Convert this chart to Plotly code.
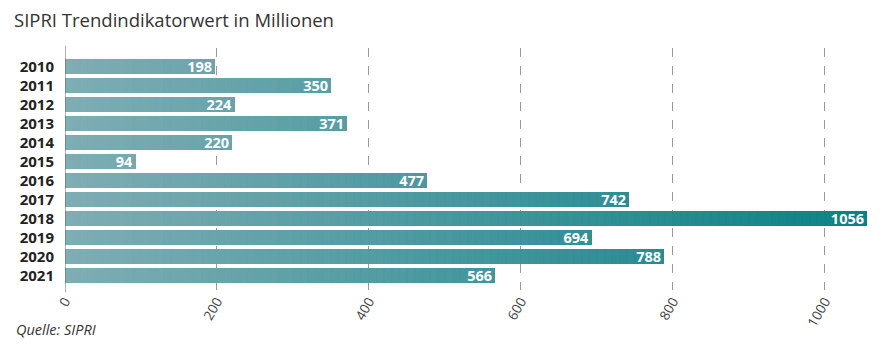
import plotly.graph_objects as go

years = ["2010", "2011", "2012", "2013", "2014", "2015", "2016", "2017", "2018", "2019", "2020", "2021"]
values = [198, 350, 224, 371, 220, 94, 477, 742, 1056, 694, 788, 566]
x_ticks = [0, 200, 400, 600, 800, 1000]
title_text = "SIPRI Trendindikatorwert in Millionen"
source_text = "Quelle: SIPRI"

X_MAX = 1083
C0 = (128, 173, 180)
C1 = (8, 128, 134)
STEP = 10


def lerp(t):
    t = max(0.0, min(1.0, t))
    return "rgb(%d,%d,%d)" % tuple(round(a + (b - a) * t) for a, b in zip(C0, C1))


fig = go.Figure()
k = 0
vmax = max(values)
while k * STEP < vmax:
    b = k * STEP
    xs, ys, bases = [], [], []
    for y, v in zip(years, values):
        if v > b:
            xs.append(min(STEP, v - b))
            ys.append(y)
            bases.append(b)
    col = lerp((b + STEP / 2) / X_MAX)
    fig.add_trace(go.Bar(
        x=xs, y=ys, base=bases, orientation="h",
        marker=dict(color=col, line=dict(width=0.02, color=col)),
        width=15 / 19, hoverinfo="skip", showlegend=False,
    ))
    k += 1

fig.add_trace(go.Bar(
    x=values, y=years, orientation="h",
    marker=dict(color="rgba(0,0,0,0)", line=dict(width=0)),
    width=15 / 19,
    text=[str(v) for v in values],
    textposition="inside", insidetextanchor="end", textangle=0,
    constraintext="none",
    textfont=dict(family="Open Sans", size=14.5, color="white", weight="bold"),
    showlegend=False,
))

fig.update_layout(
    width=882, height=339,
    margin=dict(l=57, r=2, t=40, b=57, autoexpand=False),
    paper_bgcolor="white", plot_bgcolor="white",
    barmode="overlay", bargap=0, bargroupgap=0,
    xaxis=dict(
        range=[0, X_MAX], tickvals=x_ticks, ticktext=[str(t) for t in x_ticks],
        tickangle=-60, showgrid=True, gridcolor="#9a9a9a", griddash="dash", gridwidth=1,
        zeroline=False, showline=False, ticks="", automargin=False,
        tickfont=dict(family="Open Sans", size=13.5, color="#444"),
    ),
    yaxis=dict(
        categoryorder="array", categoryarray=years, automargin=False,
        range=[242 / 19 - 18.5 / 19, -18.5 / 19], showgrid=False, zeroline=False, ticks="",
        tickfont=dict(family="Open Sans", size=15, color="#222", weight="bold"),
        ticklabelstandoff=10,
    ),
    title=dict(text=title_text, x=6 / 882, xanchor="left", y=1 - 13 / 339, yref="container",
               yanchor="middle", pad=dict(l=0, r=0, t=0, b=0),
               font=dict(family="Open Sans", size=18.5, color="#333")),
    shapes=[
        dict(type="line", xref="x", yref="paper", x0=0, x1=0, y0=-0.01, y1=1.01,
             line=dict(color="#666", width=1)),
        dict(type="line", xref="paper", yref="paper", x0=1.0, x1=1.0, y0=-0.25, y1=1.25,
             line=dict(color="#c8c8cc", width=2)),
    ],
    annotations=[
        dict(text=source_text, xref="paper", yref="paper", x=-51 / 823, y=-0.165,
             xanchor="left", yanchor="middle", showarrow=False,
             font=dict(family="Open Sans", size=14.5, color="#333", style="italic")),
    ],
)

fig.write_html("out.html")
